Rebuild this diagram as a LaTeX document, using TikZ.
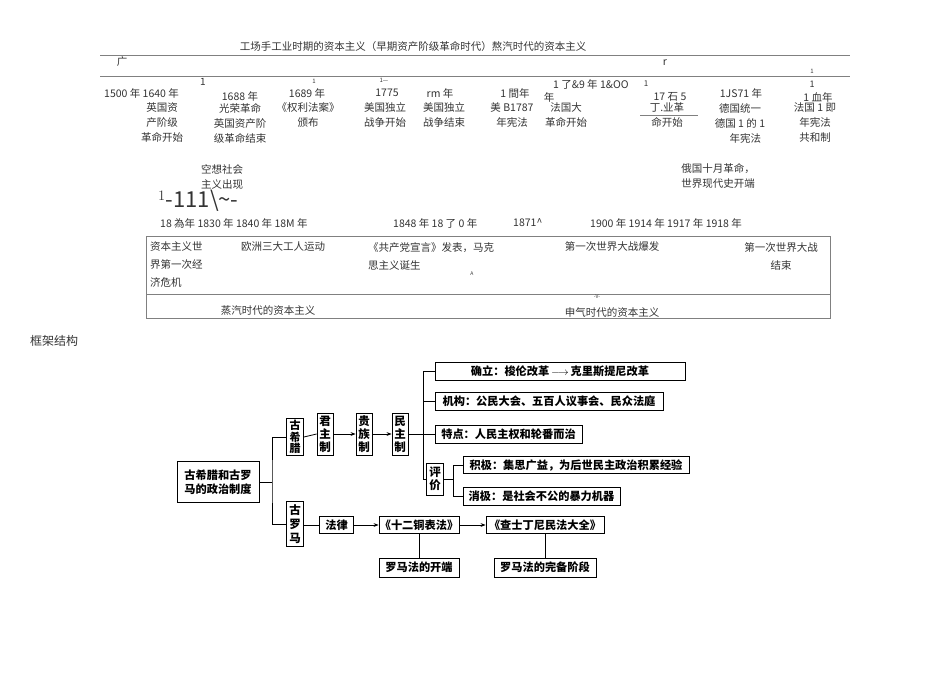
\documentclass[tikz,border=0pt]{standalone}
\usepackage{fontspec}
\setmainfont{Noto Sans CJK SC}
\usetikzlibrary{arrows.meta}
\begin{document}
\begin{tikzpicture}[x=1pt,y=-1pt,
  t/.style={font=\fontsize{10.5}{15}\selectfont,inner sep=0pt,text=black!80},
  tc/.style={t,align=center},
  tl/.style={t,anchor=west,align=left},
  bx/.style={draw,thick,inner sep=0pt,font=\fontsize{11.2}{14}\selectfont\bfseries},
  vb/.style={bx,align=center,font=\fontsize{11.5}{13}\selectfont\bfseries},
  ln/.style={line width=0.8pt},
  ar/.style={ln,-{Stealth[length=5pt]}}]
\useasboundingbox (0,0) rectangle (950,672);
% ---------- timeline ----------
\node[tc] (title) at (413,47) {工场手工业时期的资本主义（早期资产阶级革命时代）熬汽时代的资本主义};
\draw[gray] (100,55) -- (850,55);
\draw[gray] (100,76) -- (850,76);
\node[t] (g1) at (122,62) {广};
\node[t] (g2) at (665,63) {r};
\node[t,font=\fontsize{10}{10}\selectfont] (s1) at (203,82) {1};
\node[t,font=\fontsize{6}{6}\selectfont] (s2) at (314,81) {1};
\node[t,font=\fontsize{6}{6}\selectfont] (s3) at (384,80) {1—};
\node[t,font=\fontsize{8}{8}\selectfont] (s4) at (646,84) {1};
\node[t,font=\fontsize{6}{6}\selectfont] (s5) at (812,71) {1};
\node[t,font=\fontsize{9}{9}\selectfont] (s6) at (812,84) {1};
\node[tl] (y1) at (104,93) {1500 年 1640 年};
\node[tc] (y2) at (240,96) {1688 年};
\node[tc] (y3) at (307,93) {1689 年};
\node[tc] (y4) at (387,93) {1775};
\node[tc] (y5) at (440,93) {rm 年};
\node[tc] (y6) at (515,93) {1 間年};
\node[tl] (y7) at (553,84) {1 了\&9 年 1\&OO};
\node[tc] (y7b) at (549,97) {年};
\node[tc] (y8) at (670,97) {17 石 5};
\node[tc] (y9) at (741,93) {1JS71 年};
\node[tc] (y10) at (818,97) {1 血年};
\node[tc] (e1) at (162,123) {英国资\\产阶级\\革命开始};
\node[tc] (e2) at (240,123) {光荣革命\\英国资产阶\\级革命结束};
\node[tc] (e3) at (308,115) {《权利法案》\\颁布};
\node[tc] (e4) at (385,115) {美国独立\\战争开始};
\node[tc] (e5) at (444,115) {美国独立\\战争结束};
\node[tc] (e6) at (512,115) {美 B1787\\年宪法};
\node[tc] (e7) at (566,115) {法国大\\革命开始};
\node[tc] (e8) at (667,115) {丁.业革\\命开始};
\draw[gray] (640,115) -- (698,115);
\node[tc] (e9) at (740,123) {德国统一\\德国 1 的 1\\\hspace{1em}年宪法};
\node[tc] (e10) at (815,123) {法国 1 即\\年宪法\\共和制};
\node[tc] (k1) at (222,177) {空想社会\\主义出现};
\node[tl,font=\fontsize{22}{22}\selectfont] (big) at (158,201) {$^1$-111\textbackslash\~{}-};
\node[tc] (k2) at (718,176) {俄国十月革命，\\世界现代史开端};
\node[tl] (r1) at (160,223) {18 為年 1830 年 1840 年 18M 年};
\node[tl] (r2) at (393,223) {1848 年 18 了 0 年};
\node[tl] (r3) at (513,223) {1871\^{}};
\node[tl] (r4) at (590,223) {1900 年 1914 年 1917 年 1918 年};
\draw[gray] (146,236) rectangle (830,318);
\draw[gray] (146,294) -- (830,294);
\node[tl,align=left,font=\fontsize{10.5}{18}\selectfont] (b1) at (150,265) {资本主义世\\界第一次经\\济危机};
\node[tc] (b2) at (283,247) {欧洲三大工人运动};
\node[tl,align=left,font=\fontsize{10.5}{18}\selectfont] (b3) at (368,256) {《共产党宣言》发表，马克\\思主义诞生};
\node[tc] (b4) at (612,247) {第一次世界大战爆发};
\node[tc,font=\fontsize{10.5}{18}\selectfont] (b5) at (781,256) {第一次世界大战\\结束};
\node[t,font=\fontsize{5}{5}\selectfont] (b6) at (472,274) {A};
\node[t,font=\fontsize{5}{5}\selectfont] (b7) at (597,297) {-V-};
\node[tc] (b8) at (268,311) {蒸汽时代的资本主义};
\node[tc] (b9) at (612,312) {申气时代的资本主义};
\node[tl,font=\fontsize{12}{14}\selectfont] (kj) at (30,341) {框架结构};
% ---------- frame diagram ----------
\node[bx,align=center,minimum width=82pt,minimum height=41pt] (main) at (218,482) {古希腊和古罗\\马的政治制度};
\node[vb,minimum width=17pt,minimum height=37pt,font=\fontsize{11}{11.5}\selectfont\bfseries] (gx) at (295,437) {古\\希\\腊};
\node[vb,minimum width=17pt,minimum height=45pt,font=\fontsize{11.5}{14}\selectfont\bfseries] (gl) at (295,524) {古\\罗\\马};
\node[vb,minimum width=16pt,minimum height=42pt] (jz) at (325,434) {君\\主\\制};
\node[vb,minimum width=16pt,minimum height=42pt] (gz) at (364,434) {贵\\族\\制};
\node[vb,minimum width=16pt,minimum height=42pt] (mz) at (400,434) {民\\主\\制};
\node[bx,minimum width=250pt,minimum height=18pt] (q1) at (560,371) {确立：梭伦改革\,$\longrightarrow$\,克里斯提尼改革};
\node[bx,minimum width=228pt,minimum height=18pt] (q2) at (549,401) {机构：公民大会、五百人议事会、民众法庭};
\node[bx,minimum width=147pt,minimum height=18pt] (q3) at (508.5,434) {特点：人民主权和轮番而治};
\node[vb,minimum width=17pt,minimum height=32pt] (pj) at (435,479) {评\\价};
\node[bx,minimum width=226pt,minimum height=17pt] (p1) at (576,465) {积极：集思广益，为后世民主政治积累经验};
\node[bx,minimum width=157pt,minimum height=18pt] (p2) at (541.5,496) {消极：是社会不公的暴力机器};
\node[bx,minimum width=34pt,minimum height=17pt] (fl) at (336.5,525) {法律};
\node[bx,minimum width=80pt,minimum height=17pt] (sr) at (419,525) {《十二铜表法》};
\node[bx,minimum width=118pt,minimum height=17pt] (cs) at (545,525) {《查士丁尼民法大全》};
\node[bx,minimum width=80pt,minimum height=19pt] (ks) at (419,567.5) {罗马法的开端};
\node[bx,minimum width=102pt,minimum height=19pt] (wb) at (545,567.5) {罗马法的完备阶段};
\coordinate (tr) at (272,482);
\draw[ln] (main.east) -- (tr);
\draw[ln] (gx.west) -| (272,482) |- (gl.west);
\draw[ln] (gx.east) -- (jz.west);
\draw[ar] (jz.east) -- (gz.west);
\draw[ar] (gz.east) -- (mz.west);
\draw[ln] (mz.east) -- (423,434);
\draw[ln] (q1.west) -| (423,479) -- (pj.west);
\draw[ln] (q2.west) -- (423,401);
\draw[ln] (q3.west) -- (423,434);
\draw[ln] (pj.east) -- (453,479);
\draw[ln] (p1.west) -| (453,496) -- (p2.west);
\draw[ln] (gl.east) ++(0,1) -- (fl.west);
\draw[ar] (fl.east) -- (sr.west);
\draw[ar] (sr.east) -- (cs.west);
\draw[ln] (sr.south) -- (ks.north);
\draw[ln] (cs.south) -- (wb.north);
\end{tikzpicture}
\end{document}
